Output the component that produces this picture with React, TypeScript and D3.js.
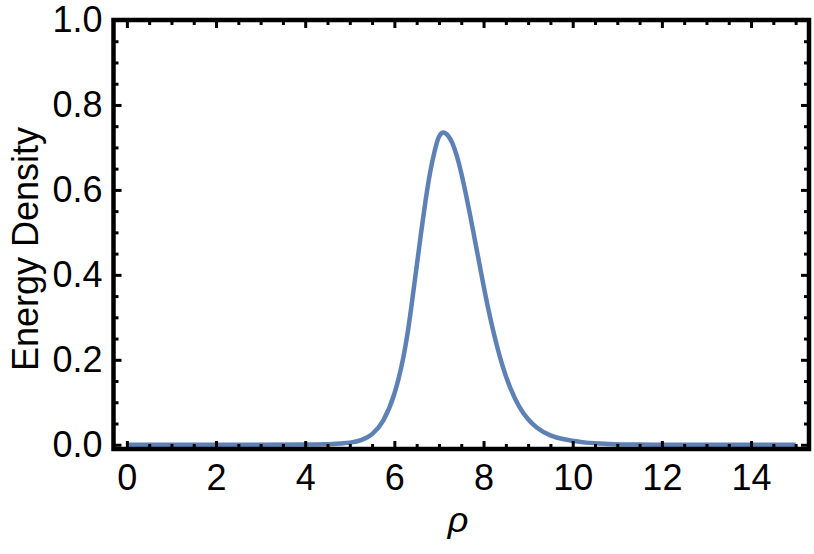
import * as d3 from 'd3'
import { useEffect, useRef } from 'react';

// curve: rho vs energy density
const rho = [0, 1, 2, 3, 4, 4.5, 4.8, 5.0, 5.25, 5.5, 5.75, 6.0, 6.1, 6.2, 6.3, 6.4, 6.5, 6.6, 6.7, 6.8, 6.9, 7.0, 7.1, 7.2, 7.3, 7.4, 7.5, 7.6, 7.7, 7.8, 7.9, 8.0, 8.1, 8.2, 8.3, 8.4, 8.5, 8.6, 8.8, 9.0, 9.2, 9.5, 9.9, 10.3, 10.8, 11.5, 12.5, 13.5, 15];
const energy = [0, 0, 0, 0, 0.0005, 0.001, 0.003, 0.005, 0.011, 0.025, 0.057, 0.12, 0.158, 0.205, 0.265, 0.34, 0.42, 0.50, 0.575, 0.64, 0.69, 0.725, 0.735, 0.728, 0.71, 0.68, 0.64, 0.592, 0.54, 0.485, 0.43, 0.375, 0.323, 0.276, 0.233, 0.195, 0.162, 0.134, 0.09, 0.06, 0.04, 0.022, 0.011, 0.005, 0.002, 0.0005, 0, 0, 0];

const xMajor = [0, 2, 4, 6, 8, 10, 12, 14];
const yMajor = [0, 0.2, 0.4, 0.6, 0.8, 1.0];

function makeChart(svgEl: SVGSVGElement) {
    const svg = d3.select(svgEl);
    svg.selectAll("*").remove();

    const x = d3.scaleLinear().domain([-0.3, 15.3]).range([113.5, 809]);
    const y = d3.scaleLinear().domain([-0.01, 1]).range([449, 20]);

    const xMinor = d3.range(0, 15.01, 0.5).filter(v => !xMajor.includes(v));
    const yMinor = d3.range(0, 1.001, 0.05).map(v => +v.toFixed(2)).filter(v => !yMajor.includes(v));

    const font = "'Liberation Sans', Arial, sans-serif";

    // the curve
    const line = d3.line<number>()
        .x((d, i) => x(rho[i]))
        .y(d => y(d))
        .curve(d3.curveMonotoneX);
    svg.append("path")
        .datum(energy)
        .attr("d", line)
        .attr("fill", "none")
        .attr("stroke", "#5e81b5")
        .attr("stroke-width", 4.5)
        .attr("stroke-linejoin", "round");

    const styleAxis = (g: any) => {
        g.select(".domain").remove();
        g.selectAll(".tick line").attr("stroke", "black").attr("stroke-width", 3);
        g.selectAll("text").attr("font-size", 36).attr("font-family", font).attr("fill", "black");
    };

    // bottom
    svg.append("g").attr("transform", `translate(0,${y(-0.01)})`)
        .call(d3.axisBottom(x).tickValues(xMajor).tickSize(-8).tickPadding(15).tickFormat(d3.format("d")))
        .call(styleAxis);
    svg.append("g").attr("transform", `translate(0,${y(-0.01)})`)
        .call(d3.axisBottom(x).tickValues(xMinor).tickSize(-5).tickFormat(() => ""))
        .call(styleAxis);
    // top
    svg.append("g").attr("transform", `translate(0,${y(1)})`)
        .call(d3.axisTop(x).tickValues(xMajor).tickSize(-8).tickFormat(() => ""))
        .call(styleAxis);
    svg.append("g").attr("transform", `translate(0,${y(1)})`)
        .call(d3.axisTop(x).tickValues(xMinor).tickSize(-5).tickFormat(() => ""))
        .call(styleAxis);
    // left
    svg.append("g").attr("transform", `translate(${x(-0.3)},0)`)
        .call(d3.axisLeft(y).tickValues(yMajor).tickSize(-8).tickPadding(11).tickFormat(d3.format(".1f")))
        .call(styleAxis);
    svg.append("g").attr("transform", `translate(${x(-0.3)},0)`)
        .call(d3.axisLeft(y).tickValues(yMinor).tickSize(-5).tickFormat(() => ""))
        .call(styleAxis);
    // right
    svg.append("g").attr("transform", `translate(${x(15.3)},0)`)
        .call(d3.axisRight(y).tickValues(yMajor).tickSize(-8).tickFormat(() => ""))
        .call(styleAxis);
    svg.append("g").attr("transform", `translate(${x(15.3)},0)`)
        .call(d3.axisRight(y).tickValues(yMinor).tickSize(-5).tickFormat(() => ""))
        .call(styleAxis);

    // frame
    svg.append("rect")
        .attr("x", x(-0.3)).attr("y", y(1))
        .attr("width", x(15.3) - x(-0.3)).attr("height", y(-0.01) - y(1))
        .attr("fill", "none").attr("stroke", "black").attr("stroke-width", 4.5);

    // axis titles
    svg.append("text").text("ρ")
        .attr("x", 458).attr("y", 532)
        .attr("text-anchor", "middle")
        .attr("font-size", 36).attr("font-style", "italic").attr("font-family", font);
    svg.append("text").text("Energy Density")
        .attr("transform", "translate(38,249) rotate(-90)")
        .attr("text-anchor", "middle")
        .attr("font-size", 36).attr("font-family", font);
}

function App() {
    const ref = useRef<SVGSVGElement>(null);
    useEffect(() => {
        if (ref.current) makeChart(ref.current);
    });

    return (
        <svg ref={ref} width="814" height="554" style={{ display: "block", position: "absolute", left: 0, top: 0, background: "white" }}>
        </svg>
    );
}

export default App;
